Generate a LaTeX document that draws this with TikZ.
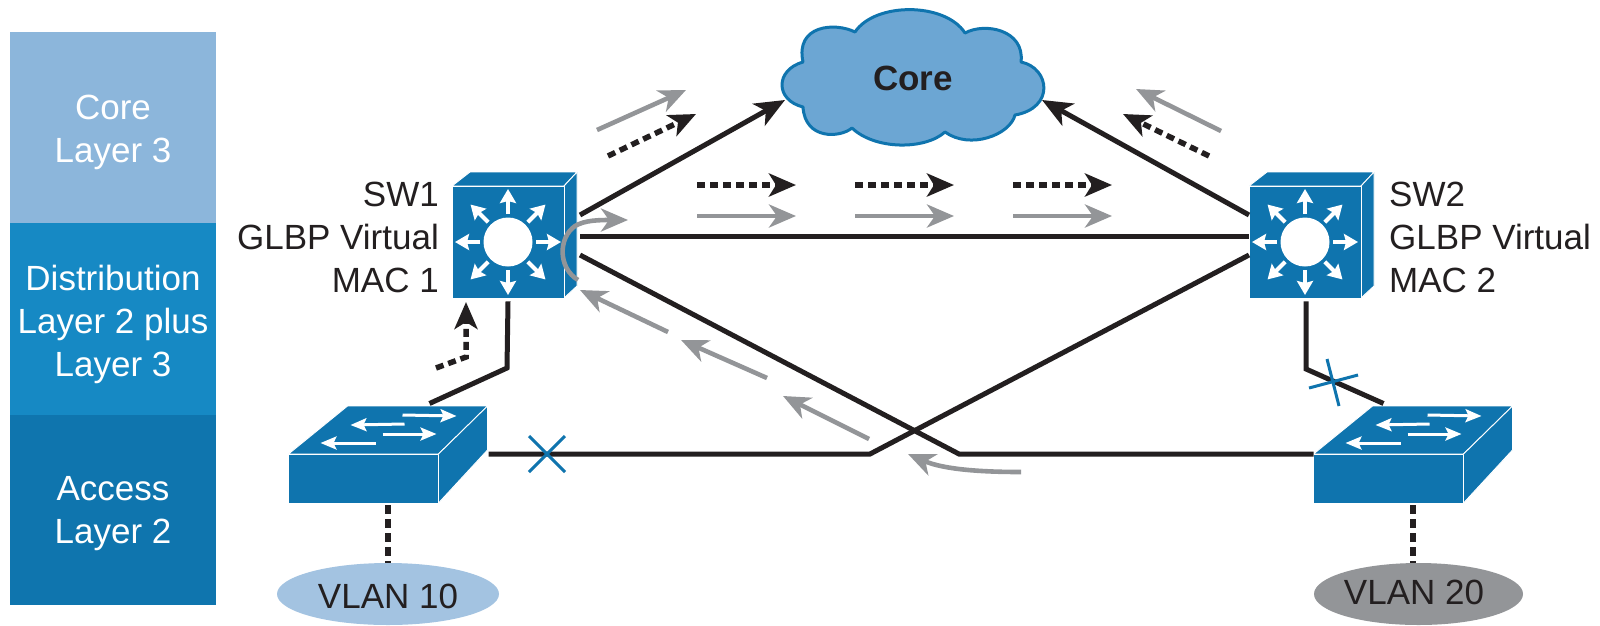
\documentclass[tikz,border=0pt]{standalone}
\usepackage{fontspec}
\setmainfont{Liberation Sans}
\usetikzlibrary{arrows.meta,calc,shapes.geometric}
\definecolor{swblue}{HTML}{0F74AE}
\definecolor{lay1}{HTML}{8CB6DB}
\definecolor{lay2}{HTML}{1689C4}
\definecolor{lay3}{HTML}{0F75AE}
\definecolor{cloudfill}{HTML}{6CA6D3}
\definecolor{vlanblue}{HTML}{A3C3E1}
\definecolor{vlangray}{HTML}{939598}
\definecolor{inkc}{HTML}{231F20}
\definecolor{flowgray}{HTML}{939598}
\tikzset{
  txt/.style={font=\fontsize{35}{43}\selectfont,text=inkc,inner sep=0pt},
  laytxt/.style={txt,text=white,align=center},
  face/.style={fill=swblue,draw=white,line width=0.9pt,line join=round},
  frontface/.style={face,inner sep=0pt,rectangle,minimum width=#1},
  wire/.style={draw=inkc,line width=5pt,line join=miter},
  headblack/.style={-{Stealth[length=30pt,width=25pt,inset=8pt]}},
  headdash/.style={-{Stealth[length=27pt,width=23pt,inset=7pt]}},
  headgray/.style={-{Stealth[length=27pt,width=23pt,inset=8pt]}},
  flowdash/.style={draw=inkc,line width=5.5pt,dash pattern=on 8pt off 5pt,headdash},
  flowsolid/.style={draw=flowgray,line width=4.6pt,headgray},
  linkdash/.style={draw=inkc,line width=6pt,dash pattern=on 9pt off 5pt},
  xmark/.style={draw=swblue,line width=3pt},
  whitearrow/.style={draw=white,line width=4pt,-{Stealth[length=14pt,width=16pt,inset=2pt]}},
  whitearrowthin/.style={draw=white,line width=3pt,-{Stealth[length=16pt,width=13pt,inset=3pt]}},
}
% multilayer switch: name, centre x, centre y
\newcommand{\mlswitch}[3]{%
  \fill[swblue,draw=white,line width=0.9pt,line join=round] (#2-56,#3-56) -- (#2-38,#3-70) -- (#2+69,#3-70) -- (#2+56,#3-56) -- cycle;
  \fill[swblue,draw=white,line width=0.9pt,line join=round] (#2+56,#3-56) -- (#2+69,#3-70) -- (#2+69,#3+44) -- (#2+56,#3+56) -- cycle;
  \node[frontface=112pt,minimum height=112pt] (#1) at (#2,#3) {};
  \fill[white] (#1.center) circle (24.5pt);
  \foreach \a in {0,45,...,315}
    \draw[whitearrow] ($(#1.center)+(\a:28pt)$) -- ($(#1.center)+(\a:53pt)$);
}
% access switch: name, centre x, centre y
\newcommand{\lansw}[3]{%
  \begin{scope}[shift={(#2-75,#3-24.5)}]
    \fill[swblue,draw=white,line width=0.9pt,line join=round] (0,0) -- (59,-48) -- (199,-48) -- (150,0) -- cycle;
    \fill[swblue,draw=white,line width=0.9pt,line join=round] (150,0) -- (199,-48) -- (199,-4) -- (150,49) -- cycle;
    \draw[whitearrowthin] (114,-39) -- (168,-38);
    \draw[whitearrowthin] (116,-30) -- (62,-29);
    \draw[whitearrowthin] (94,-20) -- (148,-20);
    \draw[whitearrowthin] (87,-11) -- (32,-11);
  \end{scope}
  \node[frontface=150pt,minimum height=49pt] (#1) at (#2,#3) {};
}
\begin{document}
\begin{tikzpicture}[x=1pt,y=-1pt]
\useasboundingbox (0,0) rectangle (1600,625);
\fill[white] (0,0) rectangle (1600,625);
% layer bands
\node[rectangle,fill=lay1,inner sep=0pt,minimum width=206pt,minimum height=191pt] (bcore) at (113,127.5) {};
\node[rectangle,fill=lay2,inner sep=0pt,minimum width=206pt,minimum height=192pt] (bdist) at (113,319) {};
\node[rectangle,fill=lay3,inner sep=0pt,minimum width=206pt,minimum height=190pt] (bacc) at (113,510) {};
\node[laytxt] (tcore) at (113,132) {Core\\Layer 3};
\node[laytxt] (tdist) at (113,324.5) {Distribution\\Layer 2 plus\\Layer 3};
\node[laytxt] (tacc) at (113,513.5) {Access\\Layer 2};
% cloud
\draw[fill=cloudfill,draw=swblue,line width=3pt,line join=round]
 (855,32) .. controls (875,2) and (945,2) .. (965,33)
 .. controls (985,22) and (1025,30) .. (1021,62)
 .. controls (1050,68) and (1055,108) .. (1015,115)
 .. controls (1010,135) and (970,150) .. (945,132)
 .. controls (925,150) and (875,150) .. (852,128)
 .. controls (840,138) and (805,140) .. (803,107)
 .. controls (775,100) and (775,70) .. (803,62)
 .. controls (795,25) and (835,22) .. (855,32) -- cycle;
\node[txt,font=\fontsize{35}{43}\selectfont\bfseries] (core) at (913,78) {Core};
% devices
\mlswitch{sw1}{508}{242}
\mlswitch{sw2}{1305}{242}
\lansw{acc1}{363.5}{478.5}
\lansw{acc2}{1388.5}{478.5}
% ellipses
\node[ellipse,fill=vlanblue,inner sep=0pt,minimum width=222pt,minimum height=62pt] (v10) at (388,594) {};
\node[ellipse,fill=vlangray,inner sep=0pt,minimum width=209pt,minimum height=62pt] (v20) at (1418.5,594) {};
\node[txt] (v10t) at (388,596) {VLAN 10};
\node[txt] (v20t) at (1414,592) {VLAN 20};
\draw[linkdash] ([shift={(24.5,2)}]acc1.south) -- (v10.north);
\draw[linkdash] ([shift={(24.5,2)}]acc2.south) -- ([xshift=-5.5pt]v20.north);
% labels
\node[txt,align=right,anchor=east] (l1) at (439,237) {SW1\\GLBP Virtual\\MAC 1};
\node[txt,align=left,anchor=west] (l2) at (1389,237) {SW2\\GLBP Virtual\\MAC 2};
% wires
\draw[wire,headblack] ([shift={(72,-27)}]sw1.center) -- ([shift={(-128,22)}]core.center);
\draw[wire,headblack] ([shift={(-56,-27)}]sw2.center) -- ([shift={(129,22)}]core.center);
\draw[wire] ([shift={(72,-6)}]sw1.center) -- ([shift={(-56,-6)}]sw2.center);
\draw[wire] ([shift={(72,13)}]sw1.center) -- (959,454) -- ([shift={(-75,-24.5)}]acc2.center);
\draw[wire] ([shift={(-56,13)}]sw2.center) -- (870,454) -- ([shift={(125,-24.5)}]acc1.center);
\draw[wire] ([yshift=-3pt]sw1.south) -- (507,368) -- ([shift={(66,-75)}]acc1.center);
\draw[wire] ([shift={(1,3)}]sw2.south) -- (1306,369) -- ([shift={(-5,-75)}]acc2.center);
% x marks
\draw[xmark] (529,436) -- (565,472) (529,472) -- (565,436);
\draw[xmark] (1327,359) -- (1339,406) (1309,388) -- (1358,375);
% flow arrows
\draw[flowsolid] (597,130) -- (686,90);
\draw[flowdash] (608,156) -- (696,114);
\draw[flowsolid] (1221,131) -- (1136,89);
\draw[flowdash] (1209,156) -- (1123,114);
\foreach \a/\b in {697/796,855/954,1013/1112}{
  \draw[flowdash] (\a,185) -- (\b,185);
  \draw[flowsolid] (\a,216) -- (\b,216);
}
\draw[flowsolid] (668,332) -- (580,290);
\draw[flowsolid] (767,378) -- (681,340);
\draw[flowsolid] (869,439) -- (783,396);
\draw[flowsolid] (1021,472) .. controls (985,472) and (945,470) .. (908,454);
\draw[flowsolid] (578,280) .. controls (558,268) and (558,238) .. (575,226) .. controls (585,220) and (600,220) .. (628,220);
\draw[flowdash] (436,368) -- (466,357) -- (466,302);
\end{tikzpicture}
\end{document}
